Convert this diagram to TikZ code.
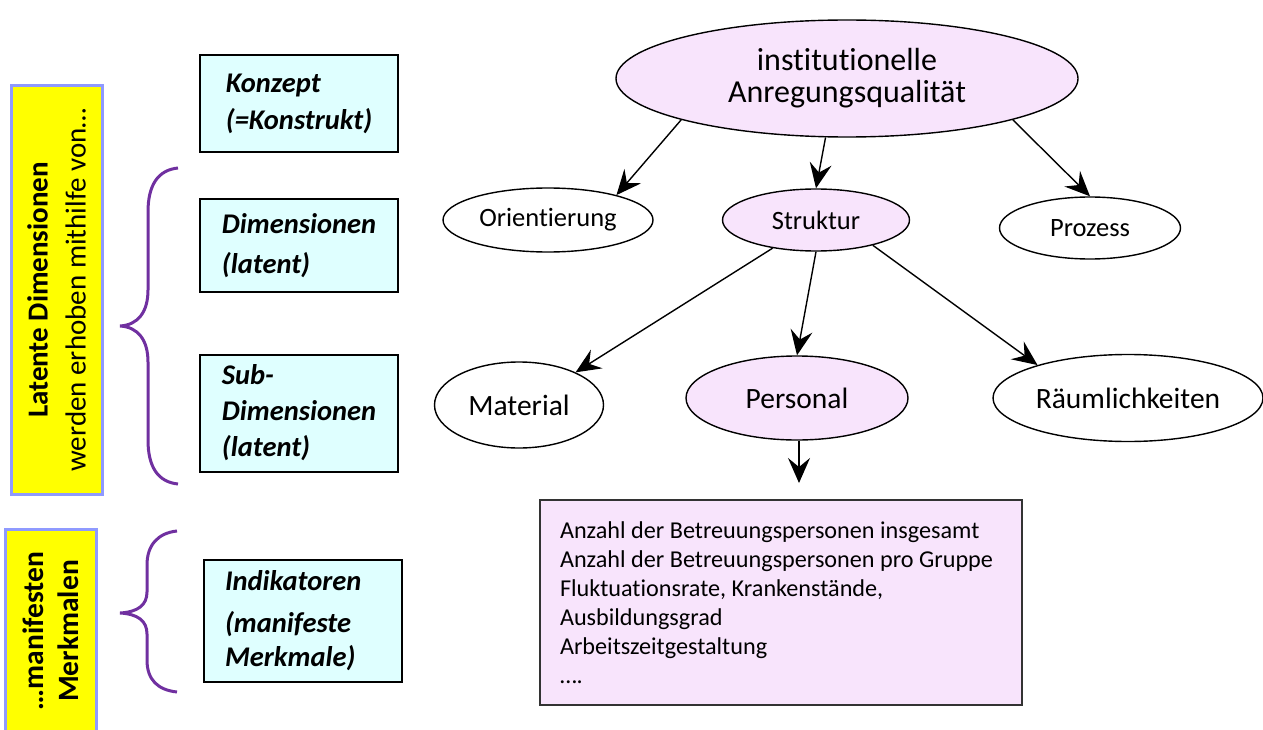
\documentclass[tikz,border=0pt]{standalone}
\usepackage{fontspec}
\setmainfont{Carlito}[Ligatures={NoCommon}]
\usetikzlibrary{shapes.geometric,arrows.meta}
\definecolor{cyanfill}{HTML}{DFFFFF}
\definecolor{pinkfill}{HTML}{F8E4FC}
\definecolor{yelfill}{HTML}{FFFF00}
\definecolor{yelborder}{HTML}{8F9AFF}
\definecolor{bracecol}{HTML}{7030A0}
\begin{document}
\begin{tikzpicture}[x=1pt,y=-1pt,
  cbox/.style={draw=black, line width=2pt, fill=cyanfill, minimum width=198pt, inner sep=0pt, align=left},
  ybox/.style={draw=yelborder, line width=3pt, fill=yelfill, rotate=90, inner sep=0pt, align=center},
  ell/.style={ellipse, draw=black, line width=1.4pt, inner sep=0pt, fill=white},
  pell/.style={ell, fill=pinkfill},
  arr/.style={-{Stealth[length=25pt,width=22pt,inset=9pt]}, line width=1.4pt},
  bracestyle/.style={draw=bracecol, line width=3pt}
]
\useasboundingbox (0,0) rectangle (1263,730);

% left yellow boxes
\node[ybox, minimum width=408pt, minimum height=91pt, font=\fontsize{29}{38}\selectfont] (lat) at (56.5,290)
  {{\bfseries Latente Dimensionen}\\werden erhoben mithilfe von…};
\node[ybox, minimum width=204pt, minimum height=91pt, font=\fontsize{29.5}{35}\selectfont\bfseries] (man) at (50.5,631)
  {…manifesten\\Merkmalen};

% braces
\draw[bracestyle] (178,168) .. controls (158,170) and (148,185) .. (148,212) -- (148,290)
  .. controls (148,312) and (138,325) .. (120,326)
  .. controls (138,327) and (148,340) .. (148,362) -- (148,440)
  .. controls (148,467) and (158,482) .. (178,484);
\draw[bracestyle] (177,531) .. controls (158,533) and (147,545) .. (147,565) -- (147,592)
  .. controls (147,605) and (138,612) .. (120,613)
  .. controls (138,614) and (147,621) .. (147,634) -- (147,660)
  .. controls (147,680) and (158,690) .. (177,692);

% cyan boxes
\node[cbox, minimum height=97pt, font=\fontsize{28.5}{37}\selectfont\bfseries\itshape] (konzept) at (299,103.5) {Konzept\\(=Konstrukt)};
\node[cbox, minimum height=93pt, font=\fontsize{28.5}{37}\selectfont\bfseries\itshape] (dim) at (299,245.5) {Dimensionen\\[3pt](latent)};
\node[cbox, minimum height=117pt, font=\fontsize{28.5}{36}\selectfont\bfseries\itshape] (sub) at (299,413) {Sub-\\Dimensionen\\(latent)};
\node[cbox, minimum height=122pt, text width=156pt, font=\fontsize{28.5}{34}\selectfont\bfseries\itshape] (ind) at (303,621) {Indikatoren\\[8pt](manifeste\\Merkmale)};

% ellipses
\node[pell, minimum width=462pt, minimum height=117pt, align=center, font=\fontsize{32}{32}\selectfont] (top) at (847,78.5) {institutionelle\\Anregungsqualität};
\node[ell, minimum width=210pt, minimum height=64pt, font=\fontsize{26.5}{30}\selectfont] (ori) at (548,220) {Orientierung};
\node[pell, minimum width=187pt, minimum height=62pt, font=\fontsize{26.5}{30}\selectfont] (str) at (816,220) {Struktur};
\node[ell, minimum width=181pt, minimum height=62pt, font=\fontsize{26.5}{30}\selectfont] (pro) at (1090,228) {Prozess};
\node[ell, minimum width=169pt, minimum height=86pt, font=\fontsize{29.5}{32}\selectfont] (mat) at (519,405) {Material};
\node[pell, minimum width=222pt, minimum height=84pt, font=\fontsize{29.5}{32}\selectfont] (per) at (797,398) {Personal};
\node[ell, minimum width=270pt, minimum height=87pt, font=\fontsize{29.5}{32}\selectfont] (rau) at (1128,398) {Räumlichkeiten};

% list box
\node[draw=black!80, line width=1.5pt, fill=pinkfill, minimum width=482pt, minimum height=205pt, inner sep=0pt, align=left, font=\fontsize{24.2}{29}\selectfont] (list) at (781,602.5)
  {\makebox[442pt][l]{Anzahl der Betreuungspersonen insgesamt}\\Anzahl der Betreuungspersonen pro Gruppe\\Fluktuationsrate, Krankenstände,\\Ausbildungsgrad\\Arbeitszeitgestaltung\\….};
\coordinate (listin) at (799,483);

% arrows
\draw[arr] (top.194) -- (ori.20);
\draw[arr] (top.250) -- (str.north);
\draw[arr] (top.-14) -- (pro.north);
\draw[arr] (str.213) -- (mat.30);
\draw[arr] (str.south) -- (per.north);
\draw[arr] (str.-24) -- (rau.160);
\draw[arr] (per.south -| listin) -- (listin);
\end{tikzpicture}
\end{document}
